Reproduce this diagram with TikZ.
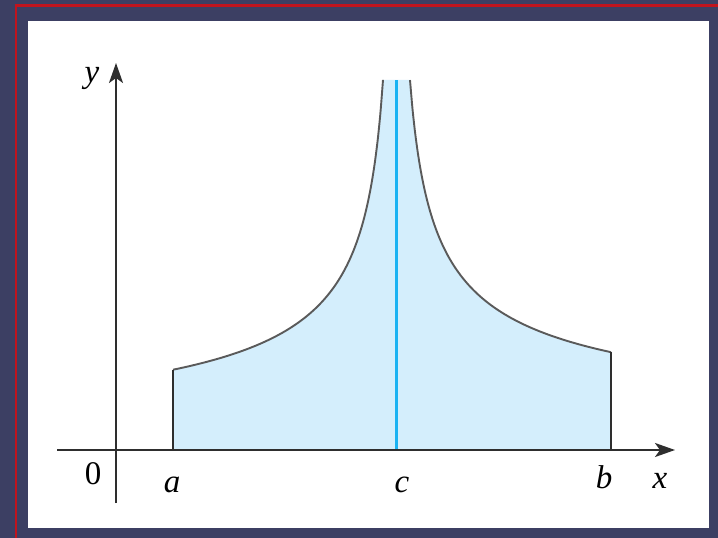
\documentclass[tikz,border=0pt]{standalone}
\usepackage{fontspec}
\setmainfont{Liberation Serif}
\usetikzlibrary{arrows.meta}
\definecolor{bgdark}{HTML}{3C3F63}
\definecolor{redline}{HTML}{C0141E}
\definecolor{fillblue}{HTML}{D4EEFC}
\definecolor{lineblue}{HTML}{1AB2F2}
\definecolor{axisgray}{HTML}{2E2E2E}
\definecolor{curvegray}{HTML}{5A5A5A}
\tikzset{
  axisline/.style={draw=axisgray, line width=2.2pt, -{Stealth[length=20pt,width=14pt,inset=5pt]}},
  edgeline/.style={draw=axisgray, line width=2.2pt},
  curveline/.style={draw=curvegray, line width=1.9pt},
  lbl/.style={font=\fontsize{33}{33}\selectfont\itshape, inner sep=0pt},
}
\begin{document}
\begin{tikzpicture}[x=1pt,y=-1pt]
\useasboundingbox (0,0) rectangle (718,538);
\fill[bgdark] (0,0) rectangle (718,538);
\draw[redline, line width=2.2pt] (16,538) -- (16,5.5) -- (718,5.5);
\fill[white] (28,21) rectangle (709,528);
% coordinates
\coordinate (O) at (116,450);
\coordinate (xs) at (57,450);
\coordinate (xe) at (675,450);
\coordinate (ys) at (116,503);
\coordinate (ye) at (116,63);
\coordinate (A0) at (173,450);
\coordinate (A1) at (173,370);
\coordinate (B0) at (611,450);
\coordinate (B1) at (611,352.2);
\coordinate (C0) at (396.5,450);
\coordinate (C1) at (396.5,80);
% region
\fill[fillblue] (A0) -- (A1)
  -- plot[domain=173:383,samples=80,smooth] (\x,{450-(-12+1378/sqrt(396-\x))})
  -- (410,80)
  -- plot[domain=410:611,samples=80,smooth] (\x,{450-(4.6+1367/sqrt(\x-396))})
  -- (B1) -- (B0) -- cycle;
\draw[curveline] plot[domain=173:383,samples=80,smooth] (\x,{450-(-12+1378/sqrt(396-\x))});
\draw[curveline] plot[domain=410:611,samples=80,smooth] (\x,{450-(4.6+1367/sqrt(\x-396))});
\draw[edgeline] (A0) -- (A1);
\draw[edgeline] (B0) -- (B1);
\draw[lineblue, line width=2.8pt] (C0) -- (C1);
% axes
\draw[axisline] (xs) -- (xe);
\draw[axisline] (ys) -- (ye);
% labels
\node[lbl] (ly) at (92,78) {y};
\node[lbl, font=\fontsize{33}{33}\selectfont] (l0) at (93,474) {0};
\node[lbl] (la) at (172,485) {a};
\node[lbl] (lc) at (402,485) {c};
\node[lbl] (lb) at (604,477) {b};
\node[lbl] (lx) at (660,481) {x};
\end{tikzpicture}
\end{document}
